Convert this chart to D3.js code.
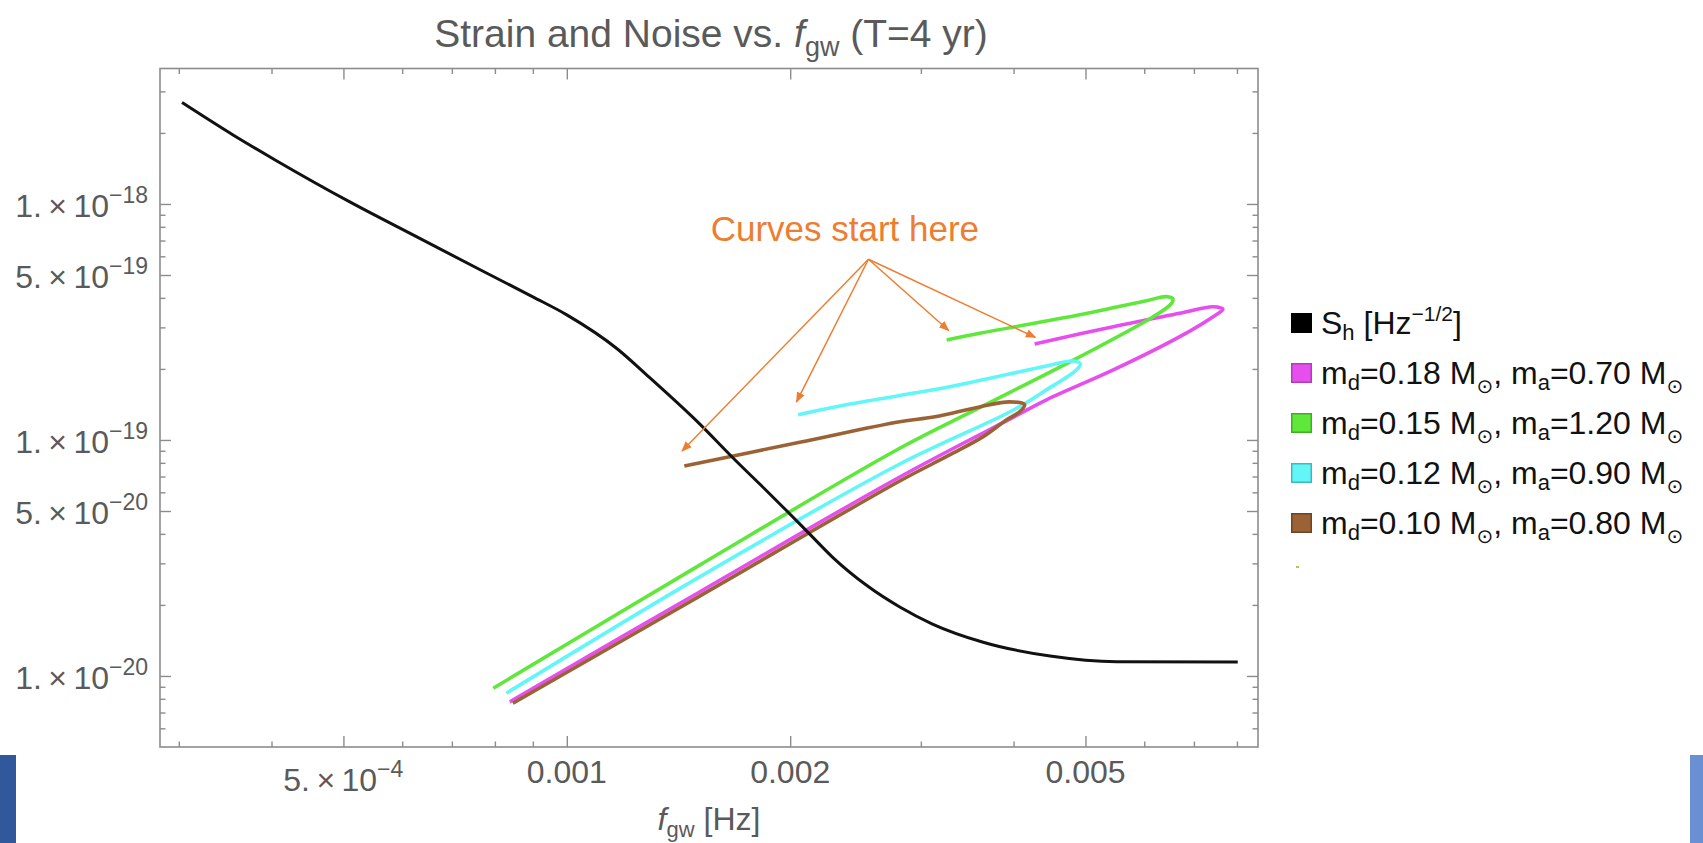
<!DOCTYPE html>
<html>
<head>
<meta charset="utf-8">
<script src="https://cdn.jsdelivr.net/npm/d3@7"></script>
<style>
  body { margin: 0; background: #fff; }
  svg { display: block; }
  text { font-family: "Liberation Sans", Arial, Helvetica, sans-serif; }
</style>
</head>
<body>
<svg id="chart" width="1703" height="843"></svg>
<script>
// ---- data (f in Hz, h dimensionless) ----

// noise curve S_h
var noiseFreq = [3.03e-4, 3.55e-4, 4.04e-4, 5.10e-4, 6.28e-4, 7.70e-4, 9.00e-4, 1.00e-3,
    1.17e-3, 1.29e-3, 1.51e-3, 1.67e-3, 1.86e-3, 1.98e-3, 2.13e-3, 2.28e-3,
    2.54e-3, 2.81e-3, 3.11e-3, 3.64e-3, 4.48e-3, 5.51e-3, 8.02e-3];
var noiseStrain = [2.69e-18, 1.96e-18, 1.54e-18, 1.02e-18, 7.25e-19, 5.20e-19, 4.04e-19, 3.39e-19,
    2.43e-19, 1.85e-19, 1.17e-19, 8.47e-20, 6.08e-20, 5.00e-20, 3.96e-20, 3.19e-20,
    2.41e-20, 1.96e-20, 1.66e-20, 1.39e-20, 1.215e-20, 1.15e-20, 1.147e-20];

// md=0.18, ma=0.70
var magentaFreq = [4.27e-3, 5.45e-3, 6.70e-3, 7.43e-3, 7.66e-3, 7.43e-3, 6.70e-3, 5.45e-3,
    4.43e-3, 4.00e-3, 2.81e-3, 1.51e-3, 8.38e-4];
var magentaStrain = [2.55e-19, 3.02e-19, 3.44e-19, 3.67e-19, 3.58e-19, 3.33e-19, 2.74e-19, 1.98e-19,
    1.48e-19, 1.25e-19, 6.97e-20, 2.27e-20, 7.78e-21];

// md=0.15, ma=1.20
var greenFreq = [3.25e-3, 3.60e-3, 4.91e-3, 6.04e-3, 6.43e-3, 6.56e-3, 6.50e-3, 6.17e-3,
    4.91e-3, 3.60e-3, 2.81e-3, 1.51e-3, 7.96e-4];
var greenStrain = [2.65e-19, 2.83e-19, 3.39e-19, 3.89e-19, 4.05e-19, 3.95e-19, 3.73e-19, 3.33e-19,
    2.25e-19, 1.37e-19, 9.22e-20, 2.95e-20, 8.87e-21];

// md=0.12, ma=0.90
var cyanFreq = [2.05e-3, 2.41e-3, 3.28e-3, 4.43e-3, 4.81e-3, 4.92e-3, 4.86e-3, 4.43e-3,
    4.00e-3, 2.81e-3, 1.51e-3, 8.29e-4];
var cyanStrain = [1.28e-19, 1.42e-19, 1.68e-19, 2.06e-19, 2.16e-19, 2.10e-19, 1.98e-19, 1.63e-19,
    1.34e-19, 7.91e-20, 2.63e-20, 8.45e-21];

// md=0.10, ma=0.80
var brownFreq = [1.44e-3, 2.06e-3, 2.81e-3, 3.12e-3, 3.60e-3, 3.95e-3, 4.14e-3, 4.08e-3,
    3.91e-3, 3.64e-3, 3.28e-3, 2.81e-3, 1.51e-3, 8.46e-4];
var brownStrain = [7.76e-20, 9.78e-20, 1.195e-19, 1.25e-19, 1.38e-19, 1.45e-19, 1.41e-19, 1.32e-19,
    1.215e-19, 1.033e-19, 8.64e-20, 6.70e-20, 2.18e-20, 7.66e-21];

var donorMass = ["0.18", "0.15", "0.12", "0.10"];
var accretorMass = ["0.70", "1.20", "0.90", "0.80"];

// ticks
var xMajor = [5e-4, 1e-3, 2e-3, 5e-3];
var xMajorLabels = [["5.\u2009\u00d7\u200910", "\u22124"], ["0.001"], ["0.002"], ["0.005"]];
var xMinor = [3e-4, 4e-4, 6e-4, 7e-4, 8e-4, 9e-4, 3e-3, 4e-3, 6e-3, 7e-3, 8e-3];
var yMajor = [1e-18, 5e-19, 1e-19, 5e-20, 1e-20];
var yMajorLabels = [["1.\u2009\u00d7\u200910", "\u221218"], ["5.\u2009\u00d7\u200910", "\u221219"],
    ["1.\u2009\u00d7\u200910", "\u221219"], ["5.\u2009\u00d7\u200910", "\u221220"],
    ["1.\u2009\u00d7\u200910", "\u221220"]];
var yMinor = [3e-18, 2e-18, 9e-19, 8e-19, 7e-19, 6e-19, 4e-19, 3e-19, 2e-19,
    9e-20, 8e-20, 7e-20, 6e-20, 4e-20, 3e-20, 2e-20, 9e-21, 8e-21, 7e-21, 6e-21];

// annotation: arrow origin, arrow tips, label spot
var noteOrigin = [2.55e-3, 5.83e-19];
var noteTips = [[1.43e-3, 8.98e-20], [2.04e-3, 1.45e-19], [3.27e-3, 2.91e-19], [4.28e-3, 2.72e-19]];
var noteSpot = [2.37e-3, 7.0e-19];

// ---- layout ----
var frame = {left: 160, right: 1258, top: 68.5, bottom: 747};
var frameColor = "#8c8c8c";
var labelColor = "#5a5a5a";
var seriesColors = ["#e64fee", "#5fe83b", "#63f6f8", "#9b6236"];
var seriesBorders = ["#b23cb9", "#3fae25", "#3cb9bb", "#6e4424"];
var orange = "#ed7d31";

var svg = d3.select("#chart");

// slide decoration at the bottom corners
svg.append("rect").attr("x", 0).attr("y", 755).attr("width", 16).attr("height", 88).attr("fill", "#30589a");
svg.append("rect").attr("x", 1690).attr("y", 755).attr("width", 13).attr("height", 88).attr("fill", "#6a8fd3");

var x = d3.scaleLog().domain([2.83e-4, 8.54e-3]).range([frame.left, frame.right]);
var y = d3.scaleLog().domain([3.75e-18, 5.0e-21]).range([frame.top, frame.bottom]);

//frame
svg.append("rect")
    .attr("x", frame.left).attr("y", frame.top)
    .attr("width", frame.right - frame.left).attr("height", frame.bottom - frame.top)
    .attr("fill", "none").attr("stroke", frameColor).attr("stroke-width", 1.6);

function ticks(axisFn, scale, values, size, tx, ty) {
    svg.append("g")
        .attr("transform", "translate(" + tx + "," + ty + ")")
        .call(axisFn(scale).tickValues(values).tickSize(size).tickFormat(""))
        .call(function (g) { g.select(".domain").remove(); })
        .selectAll("line").attr("stroke", frameColor).attr("stroke-width", 1.4);
}
ticks(d3.axisBottom, x, xMajor, -11, 0, frame.bottom);
ticks(d3.axisBottom, x, xMinor, -5.5, 0, frame.bottom);
ticks(d3.axisTop, x, xMajor, -11, 0, frame.top);
ticks(d3.axisTop, x, xMinor, -5.5, 0, frame.top);
ticks(d3.axisLeft, y, yMajor, -11, frame.left, 0);
ticks(d3.axisLeft, y, yMinor, -5.5, frame.left, 0);
ticks(d3.axisRight, y, yMajor, -11, frame.right, 0);
ticks(d3.axisRight, y, yMinor, -5.5, frame.right, 0);

// tick labels (placed by measured width so superscripts count)
var tickFont = 32;
function tickLabel(lab, px, py, align) {
    var t = svg.append("text").attr("x", 0).attr("y", py)
        .attr("font-size", tickFont).attr("fill", labelColor);
    t.append("tspan").text(lab[0]);
    if (lab.length > 1) t.append("tspan").attr("dy", -14).attr("font-size", 23).text(lab[1]);
    var w = t.node().getBBox().width;
    t.attr("x", align === "end" ? px - w : px - w / 2);
}
xMajor.forEach(function (v, i) {
    tickLabel(xMajorLabels[i], x(v), xMajorLabels[i].length > 1 ? 791 : 783, "middle");
});
yMajor.forEach(function (v, i) {
    tickLabel(yMajorLabels[i], frame.left - 12, y(v) + 13, "end");
});

// axis label
var xl = svg.append("text").attr("x", (frame.left + frame.right) / 2).attr("y", 830)
    .attr("text-anchor", "middle").attr("font-size", 32).attr("fill", labelColor);
xl.append("tspan").attr("font-style", "italic").text("f");
xl.append("tspan").attr("dy", 7).attr("font-size", 22).text("gw");
xl.append("tspan").attr("dy", -7).text(" [Hz]");

// title
var tt = svg.append("text").attr("x", (frame.left + frame.right) / 2 + 2).attr("y", 47)
    .attr("text-anchor", "middle").attr("font-size", 39).attr("fill", labelColor);
tt.append("tspan").text("Strain and Noise vs. ");
tt.append("tspan").attr("font-style", "italic").text("f");
tt.append("tspan").attr("dy", 9).attr("font-size", 27).text("gw");
tt.append("tspan").attr("dy", -9).text(" (T=4 yr)");

// ---- curves ----
var line = d3.line()
    .x(function (d) { return x(d[0]); })
    .y(function (d) { return y(d[1]); })
    .curve(d3.curveCatmullRom.alpha(0.5));

var series = [
    d3.zip(magentaFreq, magentaStrain),
    d3.zip(greenFreq, greenStrain),
    d3.zip(cyanFreq, cyanStrain),
    d3.zip(brownFreq, brownStrain)
];

var plot = svg.append("g");
plot.selectAll("path.src")
    .data(series)
    .enter().append("path")
    .attr("class", "src")
    .attr("d", line)
    .attr("fill", "none")
    .attr("stroke", function (d, i) { return seriesColors[i]; })
    .attr("stroke-width", 3.6)
    .attr("stroke-linejoin", "round");

plot.append("path")
    .datum(d3.zip(noiseFreq, noiseStrain))
    .attr("d", line.curve(d3.curveMonotoneX))
    .attr("fill", "none")
    .attr("stroke", "#111")
    .attr("stroke-width", 3);

// ---- annotation ----
svg.append("defs").append("marker")
    .attr("id", "head").attr("viewBox", "0 0 10 10")
    .attr("refX", 9).attr("refY", 5)
    .attr("markerWidth", 7).attr("markerHeight", 7)
    .attr("orient", "auto")
    .append("path").attr("d", "M0,1 L10,5 L0,9 Z").attr("fill", orange);

svg.selectAll("line.note")
    .data(noteTips)
    .enter().append("line")
    .attr("class", "note")
    .attr("x1", x(noteOrigin[0])).attr("y1", y(noteOrigin[1]))
    .attr("x2", function (d) { return x(d[0]); })
    .attr("y2", function (d) { return y(d[1]); })
    .attr("stroke", orange).attr("stroke-width", 1.5)
    .attr("marker-end", "url(#head)");

svg.append("text")
    .attr("x", x(noteSpot[0])).attr("y", y(noteSpot[1]))
    .attr("text-anchor", "middle")
    .attr("font-family", "Lato, 'Open Sans', sans-serif")
    .attr("font-size", 35)
    .attr("fill", orange)
    .text("Curves start here");

// ---- legend ----
var legX = 1291, legY0 = 323, legStep = 50, legFont = 32;
var lg = svg.append("g");
lg.append("rect").attr("x", legX).attr("y", legY0 - 10).attr("width", 21).attr("height", 20).attr("fill", "#000");
var l0 = lg.append("text").attr("x", legX + 30).attr("y", legY0 + 11).attr("font-size", legFont).attr("fill", "#111");
l0.append("tspan").text("S");
l0.append("tspan").attr("dy", 6).attr("font-size", 22).text("h");
l0.append("tspan").attr("dy", -6).text(" [Hz");
l0.append("tspan").attr("dy", -13).attr("font-size", 21).text("\u22121/2");
l0.append("tspan").attr("dy", 13).text("]");

donorMass.forEach(function (md, i) {
    var cy = legY0 + legStep * (i + 1);
    lg.append("rect").attr("x", legX + 0.75).attr("y", cy - 9.25)
        .attr("width", 19.5).attr("height", 18.5)
        .attr("fill", seriesColors[i]).attr("stroke", seriesBorders[i]).attr("stroke-width", 1.5);
    var t = lg.append("text").attr("x", legX + 30).attr("y", cy + 11).attr("font-size", legFont).attr("fill", "#111");
    t.append("tspan").text("m");
    t.append("tspan").attr("dy", 6).attr("font-size", 22).text("d");
    t.append("tspan").attr("dy", -6).text("=" + md + " M");
    t.append("tspan").attr("dy", 9).attr("font-size", 20).attr("font-family", "DejaVu Sans").text("\u2299");
    t.append("tspan").attr("dy", -9).text(", m");
    t.append("tspan").attr("dy", 6).attr("font-size", 22).text("a");
    t.append("tspan").attr("dy", -6).text("=" + accretorMass[i] + " M");
    t.append("tspan").attr("dy", 9).attr("font-size", 20).attr("font-family", "DejaVu Sans").text("\u2299");
});

// small stray speck under the legend in the original
lg.append("rect").attr("x", legX + 5).attr("y", 566).attr("width", 3).attr("height", 2).attr("fill", "#b9c35a");
</script>
</body>
</html>
